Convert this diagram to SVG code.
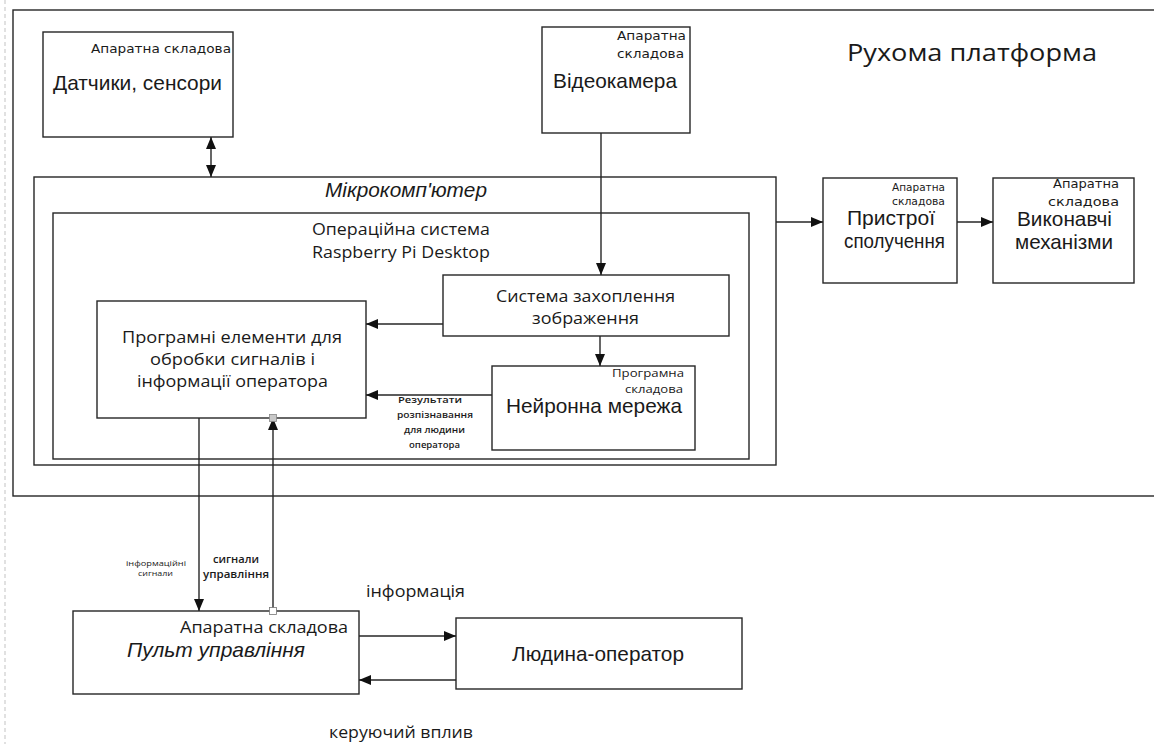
<svg xmlns="http://www.w3.org/2000/svg" width="1154" height="744" viewBox="0 0 1154 744">
<style>
.box{fill:#fff;stroke:#262626;stroke-width:1.4}
.ln{fill:none;stroke:#262626;stroke-width:1.4}
.a{font-family:"Liberation Sans",Arial,sans-serif;fill:#1a1a1a}
.o{font-family:"Open Sans","DejaVu Sans",sans-serif;fill:#1a1a1a}
.d{font-family:"DejaVu Sans","Open Sans",sans-serif;fill:#1a1a1a}
.it{font-style:italic}
.b{font-weight:600}
</style>
<defs>
<marker id="ah" viewBox="0 0 12 10" refX="12" refY="5" markerWidth="12" markerHeight="10" markerUnits="userSpaceOnUse" orient="auto-start-reverse">
<path d="M0,0 L12,5 L0,10 Z" fill="#111"/>
</marker>
</defs>
<rect width="1154" height="744" fill="#fff"/>
<line x1="5" y1="0" x2="5" y2="744" stroke="#d8d8d8" stroke-width="1.5" stroke-dasharray="4,3"/>

<g id="platform">
<rect class="box" x="13" y="10" width="1150" height="486" fill="none"/>
<text class="o" x="847" y="61" font-size="24" textLength="250" lengthAdjust="spacingAndGlyphs">Рухома платформа</text>
</g>

<g id="sensors">
<rect class="box" x="43" y="32" width="190" height="105"/>
<text class="d" x="91" y="53" font-size="12.5" textLength="140" lengthAdjust="spacingAndGlyphs">Апаратна складова</text>
<text class="a" x="53" y="90" font-size="21" textLength="169" lengthAdjust="spacingAndGlyphs">Датчики, сенсори</text>
</g>

<g id="camera">
<rect class="box" x="542" y="27" width="148" height="106"/>
<text class="d" x="617" y="40" font-size="12.5" textLength="69" lengthAdjust="spacingAndGlyphs">Апаратна</text>
<text class="d" x="617" y="58" font-size="12.5" textLength="67" lengthAdjust="spacingAndGlyphs">складова</text>
<text class="a" x="553" y="88" font-size="21" textLength="124" lengthAdjust="spacingAndGlyphs">Відеокамера</text>
</g>

<g id="microcomputer">
<rect class="box" x="34" y="177" width="742" height="288"/>
<text class="a it" x="325" y="197" font-size="20.5" textLength="162" lengthAdjust="spacingAndGlyphs">Мікрокомп'ютер</text>
</g>

<g id="os">
<rect class="box" x="53" y="213" width="696" height="246"/>
<text class="o" x="312" y="235" font-size="15.5" textLength="178" lengthAdjust="spacingAndGlyphs">Операційна система</text>
<text class="o" x="312" y="258" font-size="15.5" textLength="178" lengthAdjust="spacingAndGlyphs">Raspberry Pi Desktop</text>
</g>

<g id="software">
<rect class="box" x="97" y="301" width="269" height="117"/>
<text class="o" x="122" y="343" font-size="15.5" textLength="220" lengthAdjust="spacingAndGlyphs">Програмні елементи для</text>
<text class="o" x="150" y="365" font-size="15.5" textLength="165" lengthAdjust="spacingAndGlyphs">обробки сигналів і</text>
<text class="o" x="137" y="387" font-size="15.5" textLength="191" lengthAdjust="spacingAndGlyphs">інформації оператора</text>
</g>

<g id="capture">
<rect class="box" x="443" y="275" width="286" height="61"/>
<text class="o" x="496" y="302" font-size="15.5" textLength="179" lengthAdjust="spacingAndGlyphs">Система захоплення</text>
<text class="o" x="532" y="324" font-size="15.5" textLength="107" lengthAdjust="spacingAndGlyphs">зображення</text>
</g>

<g id="neural">
<rect class="box" x="492" y="366" width="203" height="84"/>
<text class="o" x="612" y="377" font-size="11.5" textLength="72" lengthAdjust="spacingAndGlyphs">Програмна</text>
<text class="o" x="625" y="393" font-size="11.5" textLength="58" lengthAdjust="spacingAndGlyphs">складова</text>
<text class="a" x="506" y="413" font-size="21" textLength="176" lengthAdjust="spacingAndGlyphs">Нейронна мережа</text>
</g>

<g id="interface">
<rect class="box" x="823" y="178" width="134" height="105"/>
<text class="d" x="892" y="191" font-size="10" textLength="53" lengthAdjust="spacingAndGlyphs">Апаратна</text>
<text class="d" x="892" y="205" font-size="10" textLength="53" lengthAdjust="spacingAndGlyphs">складова</text>
<text class="a" x="847" y="225" font-size="20.6" textLength="88" lengthAdjust="spacingAndGlyphs">Пристрої</text>
<text class="a" x="844" y="248" font-size="20.6" textLength="101" lengthAdjust="spacingAndGlyphs">сполучення</text>
</g>

<g id="actuators">
<rect class="box" x="993" y="178" width="141" height="105"/>
<text class="d" x="1053" y="188" font-size="12" textLength="66" lengthAdjust="spacingAndGlyphs">Апаратна</text>
<text class="d" x="1048" y="206" font-size="11.5" textLength="71" lengthAdjust="spacingAndGlyphs">складова</text>
<text class="a" x="1017" y="226" font-size="20.6" textLength="95" lengthAdjust="spacingAndGlyphs">Виконавчі</text>
<text class="a" x="1015" y="249" font-size="20.6" textLength="98" lengthAdjust="spacingAndGlyphs">механізми</text>
</g>

<g id="console">
<rect class="box" x="73" y="611" width="286" height="83"/>
<text class="o" x="180" y="633" font-size="16" textLength="168" lengthAdjust="spacingAndGlyphs">Апаратна складова</text>
<text class="a it" x="127" y="657" font-size="21" textLength="178" lengthAdjust="spacingAndGlyphs">Пульт управління</text>
</g>

<g id="operator">
<rect class="box" x="456" y="618" width="286" height="71"/>
<text class="a" x="512" y="661" font-size="20.8" textLength="172" lengthAdjust="spacingAndGlyphs">Людина-оператор</text>
</g>

<g id="connectors">
<line class="ln" x1="211" y1="137" x2="211" y2="177" marker-start="url(#ah)" marker-end="url(#ah)"/>
<line class="ln" x1="601" y1="133" x2="601" y2="275" marker-end="url(#ah)"/>
<line class="ln" x1="443" y1="324" x2="366" y2="324" marker-end="url(#ah)"/>
<line class="ln" x1="600" y1="336" x2="600" y2="366" marker-end="url(#ah)"/>
<line class="ln" x1="492" y1="395" x2="366" y2="395" marker-end="url(#ah)"/>
<line class="ln" x1="776" y1="222" x2="823" y2="222" marker-end="url(#ah)"/>
<line class="ln" x1="957" y1="222" x2="993" y2="222" marker-end="url(#ah)"/>
<line class="ln" x1="199" y1="418" x2="199" y2="611" marker-end="url(#ah)"/>
<line class="ln" x1="273" y1="611" x2="273" y2="418" marker-end="url(#ah)"/>
<line class="ln" x1="359" y1="636" x2="456" y2="636" marker-end="url(#ah)"/>
<line class="ln" x1="456" y1="680" x2="359" y2="680" marker-end="url(#ah)"/>
<rect x="269.5" y="414.5" width="7" height="7" fill="#c8c8c8" stroke="#888" stroke-width="0.8"/>
<rect x="269.5" y="607.5" width="7" height="7" fill="#fff" stroke="#777" stroke-width="0.8"/>
<text class="o b" x="398" y="403" font-size="9.5" textLength="64" lengthAdjust="spacingAndGlyphs">Результати</text>
<text class="o b" x="397" y="418" font-size="9.5" textLength="76" lengthAdjust="spacingAndGlyphs">розпізнавання</text>
<text class="o b" x="404" y="433" font-size="9.5" textLength="61" lengthAdjust="spacingAndGlyphs">для людини</text>
<text class="o b" x="409" y="448" font-size="9.5" textLength="51" lengthAdjust="spacingAndGlyphs">оператора</text>
<text class="o" x="126" y="566" font-size="7.5" fill="#444" textLength="60" lengthAdjust="spacingAndGlyphs">інформаційні</text>
<text class="o" x="138" y="576" font-size="7.5" fill="#444" textLength="35" lengthAdjust="spacingAndGlyphs">сигнали</text>
<text class="o b" x="213" y="563" font-size="10.5" textLength="46" lengthAdjust="spacingAndGlyphs">сигнали</text>
<text class="o b" x="203" y="578" font-size="10.5" textLength="66" lengthAdjust="spacingAndGlyphs">управління</text>
<text class="o" x="366" y="597" font-size="16" textLength="99" lengthAdjust="spacingAndGlyphs">інформація</text>
<text class="o" x="329" y="738" font-size="15.5" textLength="144" lengthAdjust="spacingAndGlyphs">керуючий вплив</text>
</g>
</svg>
